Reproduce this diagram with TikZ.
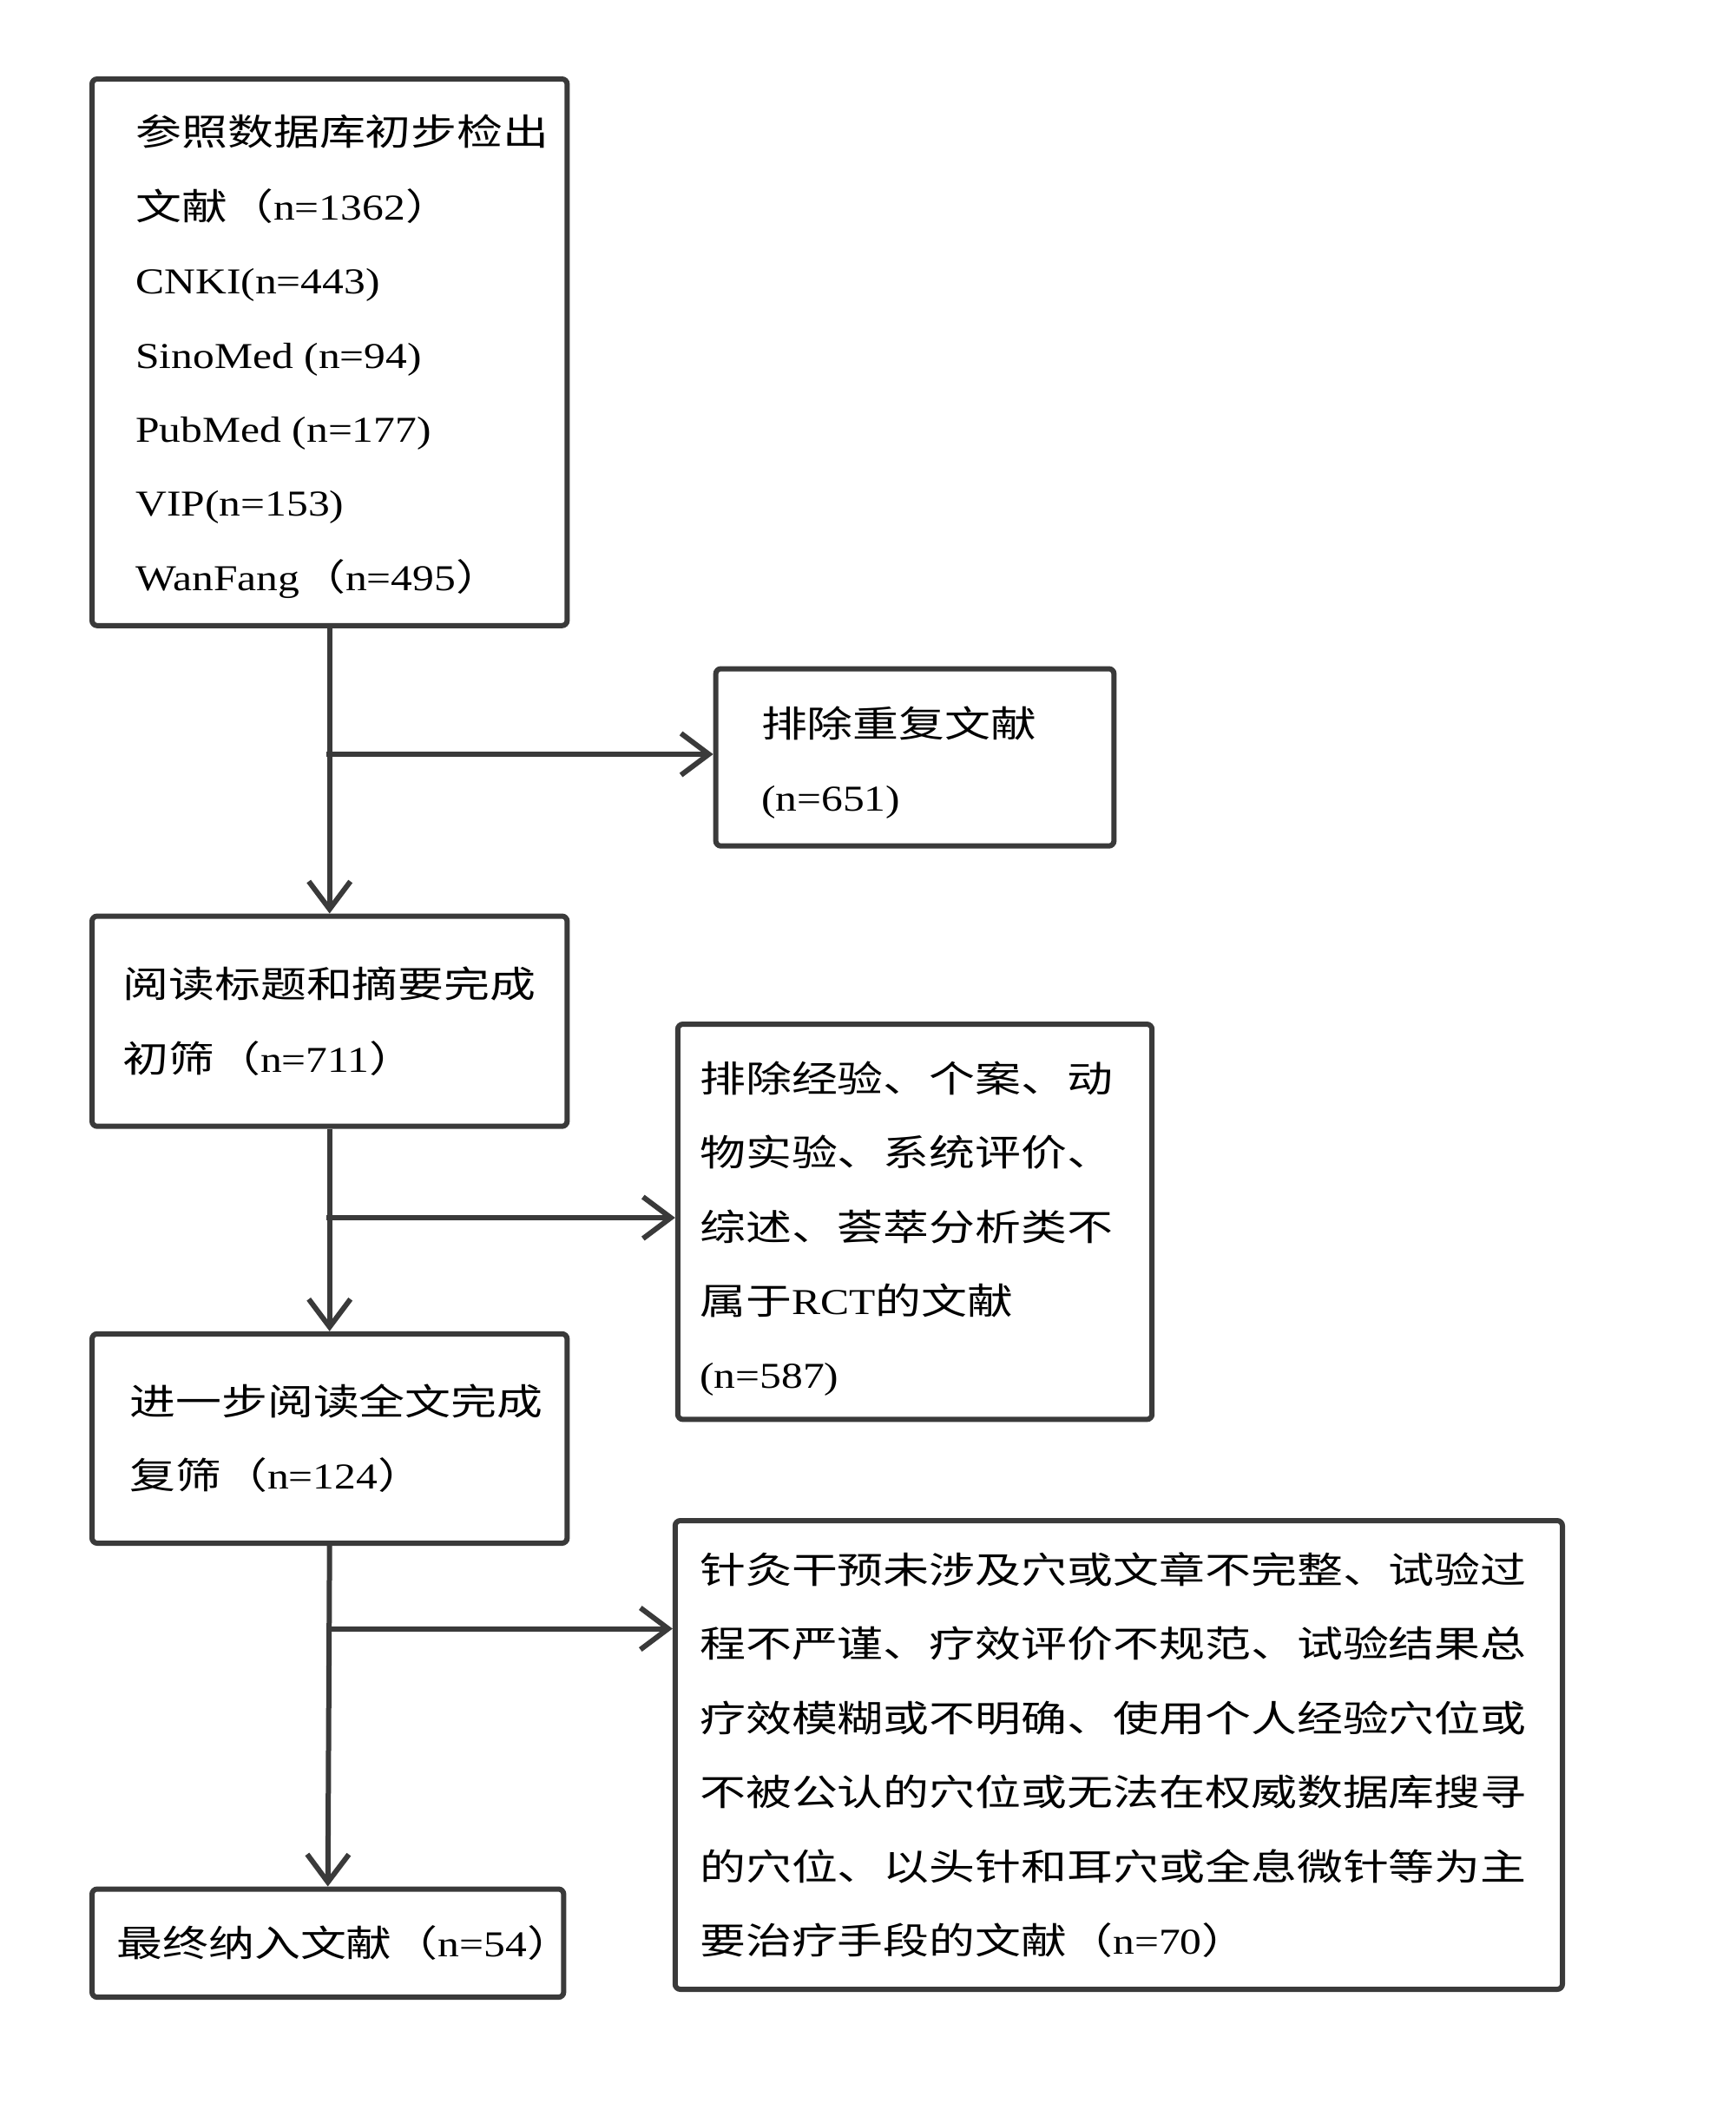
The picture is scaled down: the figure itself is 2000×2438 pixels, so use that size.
\documentclass[tikz,border=0pt]{standalone}
\usepackage{fontspec}
\setmainfont[FakeStretch=1.18]{Liberation Serif}
\newfontfamily\cjk[FakeStretch=1.26]{Noto Sans CJK SC}
\usetikzlibrary{arrows.meta}
\definecolor{ln}{HTML}{3A3A3A}
\begin{document}
\begin{tikzpicture}[x=0.5pt,y=-0.5pt,
  boxnode/.style={draw=ln, line width=3pt, rounded corners=3pt, inner sep=0pt, anchor=north west},
  txt/.style={anchor=west, align=left, inner sep=0pt, font=\fontsize{21}{42.7}\selectfont, text=black},
  conn/.style={draw=ln, line width=3pt},
  arr/.style={conn, -{Straight Barb[length=16pt,width=24pt]}}]
\useasboundingbox (0,0) rectangle (2000,2438);
\fill[white] (0,0) rectangle (2000,2438);

% main column boxes
\node[boxnode, minimum width=273.7pt, minimum height=314.9pt] (b1) at (103,88) {};
\node[boxnode, minimum width=273.7pt, minimum height=121.1pt] (b2) at (103,1052.5) {};
\node[boxnode, minimum width=273.7pt, minimum height=120.6pt] (b3) at (103,1533.8) {};
\node[boxnode, minimum width=271.7pt, minimum height=62.3pt] (b4) at (103,2173.5) {};
% side boxes
\node[boxnode, minimum width=229.4pt, minimum height=102.1pt] (e1) at (821.6,767.5) {};
\node[boxnode, minimum width=273.2pt, minimum height=227.7pt] (e2) at (777.8,1177) {};
\node[boxnode, minimum width=511.1pt, minimum height=270pt] (e3) at (774.8,1749) {};

% texts
\node[txt] (t1) at ([xshift=26.5pt,yshift=-2.5pt]b1.west) {{\cjk 参照数据库初步检出}\\{\cjk 文献（}n=1362{\cjk ）}\\CNKI(n=443)\\SinoMed (n=94)\\PubMed (n=177)\\VIP(n=153)\\WanFang{\cjk （}n=495{\cjk ）}};
\node[txt] (t2) at ([xshift=19pt]b2.west) {{\cjk 阅读标题和摘要完成}\\{\cjk 初筛（}n=711{\cjk ）}};
\node[txt] (t3) at ([xshift=23pt]b3.west) {{\cjk 进一步阅读全文完成}\\{\cjk 复筛（}n=124{\cjk ）}};
\node[txt] (t4) at ([xshift=15.5pt]b4.west) {{\cjk 最终纳入文献（}n=54{\cjk ）}};
\node[txt] (s1) at ([xshift=27.5pt,yshift=-3pt]e1.west) {{\cjk 排除重复文献}\\(n=651)};
\node[txt] (s2) at ([xshift=14pt,yshift=-4pt]e2.west) {{\cjk 排除经验、个案、动}\\{\cjk 物实验、系统评价、}\\{\cjk 综述、荟萃分析类不}\\{\cjk 属于}RCT{\cjk 的文献}\\(n=587)};
\node[txt] (s3) at ([xshift=15.5pt]e3.west) {{\cjk 针灸干预未涉及穴或文章不完整、试验过}\\{\cjk 程不严谨、疗效评价不规范、试验结果总}\\{\cjk 疗效模糊或不明确、使用个人经验穴位或}\\{\cjk 不被公认的穴位或无法在权威数据库搜寻}\\{\cjk 的穴位、以头针和耳穴或全息微针等为主}\\{\cjk 要治疗手段的文献（}n=70{\cjk ）}};

% connectors
\coordinate (c1) at (376,869);
\coordinate (c2) at (376,1403);
\coordinate (c3) at (376,1876.5);
\draw[arr] (b1.south) -- (b2.north);
\draw[arr] (b2.south) -- (b3.north);
\draw[arr] (b3.south) -- (b4.north);
\draw[arr] (c1) -- (c1 -| e1.west);
\draw[arr] (c2) -- (c2 -| e2.west);
\draw[arr] (c3) -- (c3 -| e3.west);
\end{tikzpicture}
\end{document}
